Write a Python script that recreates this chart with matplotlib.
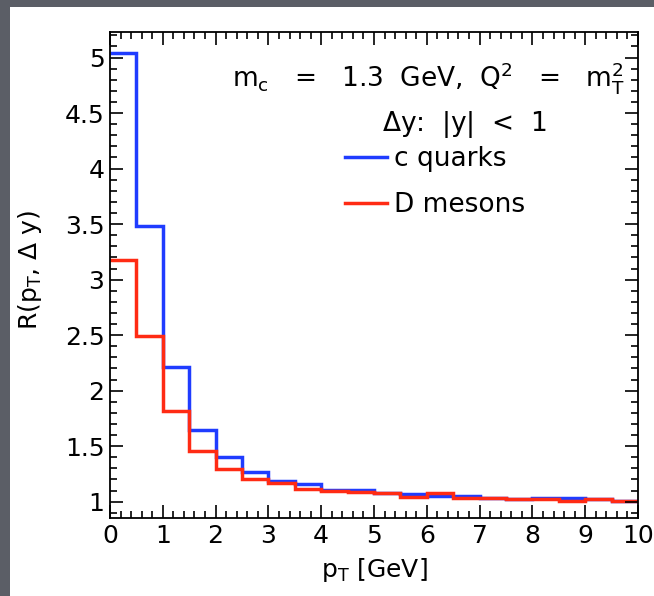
import matplotlib
matplotlib.use('Agg')
import matplotlib.pyplot as plt
from matplotlib.patches import Rectangle
from matplotlib.ticker import MultipleLocator, FuncFormatter
import numpy as np

plt.rcParams['font.family'] = ['DejaVu Sans']
plt.rcParams['mathtext.fontset'] = 'dejavusans'

# pT bins [GeV], 0.5 wide
bin_edges = np.arange(0, 10.5, 0.5)
c_quarks = [5.04, 3.48, 2.21, 1.65, 1.40, 1.27, 1.19, 1.16, 1.105, 1.105,
            1.075, 1.066, 1.051, 1.048, 1.03, 1.025, 1.03, 1.03, 1.028, 1.006]
d_mesons = [3.18, 2.49, 1.815, 1.455, 1.295, 1.205, 1.168, 1.114, 1.10, 1.087,
            1.075, 1.045, 1.075, 1.033, 1.03, 1.022, 1.028, 1.006, 1.028, 1.006]

blue = '#1f3cff'
red = '#ff2b14'

fig = plt.figure(figsize=(6.54, 5.96), dpi=100)
fig.patch.set_facecolor('#5b5e66')
fig.patches.append(Rectangle((10/654, 0), 1, 589/596, transform=fig.transFigure,
                             facecolor='white', edgecolor='none', zorder=-10))

ax = fig.add_axes([110/654, 78/596, 528/654, 486/596])
ax.set_zorder(5)
ax.stairs(c_quarks, bin_edges, color=blue, lw=2.5, baseline=None, label='c quarks')
ax.stairs(d_mesons, bin_edges, color=red, lw=2.5, baseline=None, label='D mesons')

ax.set_xlim(0, 10)
ax.set_ylim(0.853, 5.23)
ax.xaxis.set_major_locator(MultipleLocator(1))
ax.xaxis.set_minor_locator(MultipleLocator(0.2))
ax.yaxis.set_major_locator(MultipleLocator(0.5))
ax.yaxis.set_minor_locator(MultipleLocator(0.1))
ax.yaxis.set_major_formatter(FuncFormatter(lambda v, p: ('%g' % v)))
ax.tick_params(which='both', direction='in', top=True, right=True, labelsize=18, width=1.2)
ax.tick_params(which='major', length=9.5)
ax.tick_params(which='minor', length=5)
ax.tick_params(axis='y', which='major', pad=4)
ax.tick_params(axis='x', which='major', pad=4)
for s in ax.spines.values():
    s.set_linewidth(1.3)

ax.set_xlabel(r'p$_\mathregular{T}$ [GeV]', fontsize=18, va='top')
ax.xaxis.set_label_coords(0.5, -0.078)
ax.set_ylabel(r'R(p$_\mathregular{T}$, $\Delta$ y)', fontsize=18)
ax.yaxis.set_label_coords(-0.125, 0.51)

ax.text(0.975, 0.905,
        r'm$_\mathregular{c}$   =   1.3  GeV,  Q$^\mathregular{2}$   =   m$_\mathregular{T}^\mathregular{2}$',
        transform=ax.transAxes, ha='right', va='center', fontsize=19)
ax.text(0.828, 0.809, r'$\Delta$y:  |y|  <  1', transform=ax.transAxes,
        ha='right', va='center', fontsize=19)

ax.legend(loc='upper left', bbox_to_anchor=(0.445, 0.765), frameon=False, fontsize=19,
          handlelength=1.6, handletextpad=0.25, borderpad=0, borderaxespad=0,
          labelspacing=0.75)

fig.savefig('out.png', dpi=100, facecolor=fig.get_facecolor())
